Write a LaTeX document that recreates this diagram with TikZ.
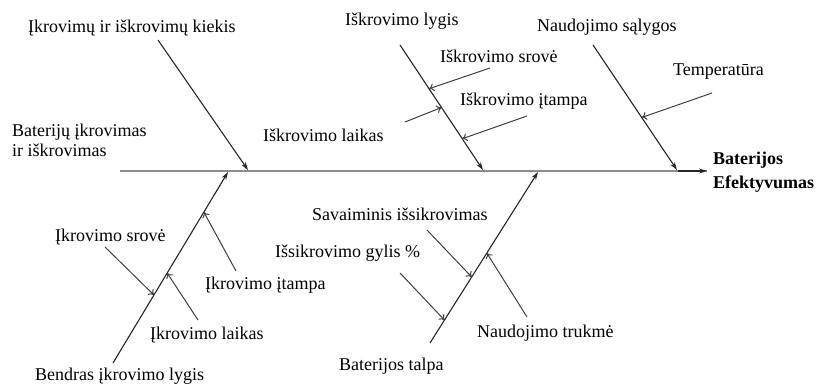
\documentclass[tikz,border=0pt]{standalone}
\usepackage{fontspec}
\setmainfont{Liberation Serif}
\usetikzlibrary{arrows.meta,positioning}
\tikzset{lbl/.style={inner sep=0pt, anchor=west, font=\fontsize{18}{20}\selectfont},
spine/.style={draw=black!45, line width=1.6pt},
bone/.style={draw=black!85, line width=1.1pt, -{Stealth[length=8pt,width=5pt]}},
rib/.style={draw=black!75, line width=1pt, -{To[length=5pt,width=8pt]}}}
% junction points along a bone
\newcommand{\joints}[3]{
\path (#1) -- (#2) \foreach \t/\n in {#3} {coordinate[pos=\t] (\n)};
}

\begin{document}
\begin{tikzpicture}[x=1pt,y=-1pt]
  \useasboundingbox (0,0) rectangle (824,383);

  % labels
  \node (kiekis) [lbl] at (28,28) {Įkrovimų ir iškrovimų kiekis};
  \node (lygis) [lbl] at (345,21) {Iškrovimo lygis};
  \node (srove2) [lbl] at (440,56) {Iškrovimo srovė};
  \node (itampa2) [lbl] at (460,101) {Iškrovimo įtampa};
  \node (laikas2) [lbl] at (263,135) {Iškrovimo laikas};
  \node (salygos) [lbl] at (537,27) {Naudojimo sąlygos};
  \node (temp) [lbl] at (673,72) {Temperatūra};
  \node (group) [lbl,align=left,font=\fontsize{18}{20}\selectfont] at (12,140) {Baterijų įkrovimas\\ir iškrovimas};
  \node (result) [lbl,align=left,font=\fontsize{18}{24}\bfseries] at (713,172) {Baterijos\\Efektyvumas};
  \node (srove1) [lbl] at (55,237) {Įkrovimo srovė};
  \node (itampa1) [lbl] at (205,285) {Įkrovimo įtampa};
  \node (laikas1) [lbl] at (150,335) {Įkrovimo laikas};
  \node (bendras) [lbl] at (35,376) {Bendras įkrovimo lygis};
  \node (savaim) [lbl] at (312,214) {Savaiminis išsikrovimas};
  \node (gylis) [lbl] at (275,253) {Išsikrovimo gylis \%};
  \node (trukme) [lbl] at (477,333) {Naudojimo trukmė};
  \node (talpa) [lbl] at (339,366) {Baterijos talpa};

  % spine
  \coordinate (tail) at (120,171);
  \coordinate (head) at (707,171);
  \draw [spine] (tail) -- (head);
  \draw [bone] (678,171) -- (head);

  % bones
  \coordinate (b1s) at (158,40);  \coordinate (b1e) at (248,170);
  \coordinate (b2s) at (400,45);  \coordinate (b2e) at (483,170);
  \coordinate (b3s) at (593,45);  \coordinate (b3e) at (677,170);
  \coordinate (b4s) at (113,363); \coordinate (b4e) at (228,172);
  \coordinate (b5s) at (430,343); \coordinate (b5e) at (538,172);
  \foreach \b in {1,...,5} {\draw [bone] (b\b s) -- (b\b e);}

  \joints{b2s}{b2e}{0.35/j21,0.5/j22,0.75/j23}
  \joints{b3s}{b3e}{0.58/j31}
  \joints{b4s}{b4e}{0.356/j41,0.471/j42,0.79/j43}
  \joints{b5s}{b5e}{0.134/j51,0.386/j52,0.526/j53}

  % ribs
  \coordinate (r21) at (490,68);  \draw [rib] (r21) -- (j21);
  \coordinate (r22) at (405,122); \draw [rib] (r22) -- (j22);
  \coordinate (r23) at (527,116); \draw [rib] (r23) -- (j23);
  \coordinate (r31) at (712,93);  \draw [rib] (r31) -- (j31);
  \coordinate (r41) at (105,247); \draw [rib] (r41) -- (j41);
  \coordinate (r42) at (198,320); \draw [rib] (r42) -- (j42);
  \coordinate (r43) at (236,271); \draw [rib] (r43) -- (j43);
  \coordinate (r51) at (400,273); \draw [rib] (r51) -- (j51);
  \coordinate (r52) at (427,230); \draw [rib] (r52) -- (j52);
  \coordinate (r53) at (527,317); \draw [rib] (r53) -- (j53);
\end{tikzpicture}
\end{document}
